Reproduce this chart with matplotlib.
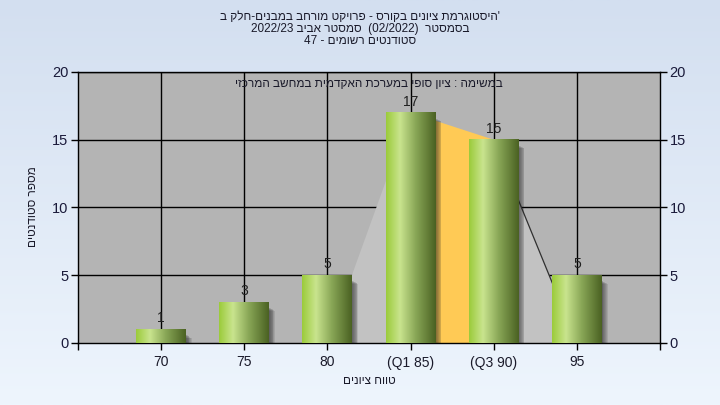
import re
import numpy as np
import matplotlib
matplotlib.use("Agg")
import matplotlib.pyplot as plt
from matplotlib.colors import LinearSegmentedColormap
from matplotlib.patches import Rectangle, Polygon

plt.rcParams['font.family'] = ['Liberation Sans', 'DejaVu Sans']

# ---------------- data ----------------
categories = ['70', '75', '80', '(Q1 85)', '(Q3 90)', '95']
counts = [1, 3, 5, 17, 15, 5]
quartile_area = [0, 0, 0, 17, 15, 0]   # background area (Q1..Q3 highlighted)
y_ticks = [0, 5, 10, 15, 20]

title_lines = [
    "'היסטוגרמת ציונים בקורס - פרויקט מורחב במבנים-חלק ב",
    "בסמסטר  (02/2022)  סמסטר אביב 2022/23",
    "סטודנטים רשומים - 47",
]
subtitle = "במשימה : ציון סופי במערכת האקדמית במחשב המרכזי"
x_label = "טווח ציונים"
y_label = "מספר סטודנטים"


def rtl(s):
    """Visual (left-to-right) order of a right-to-left string."""
    r = s[::-1]
    r = re.sub(r'[0-9A-Za-z/]+', lambda m: m.group(0)[::-1], r)
    r = r.translate(str.maketrans('()', ')('))
    return r


W, H = 720, 405
fig = plt.figure(figsize=(W / 100, H / 100), dpi=100)

# background gradient
bg = fig.add_axes([0, 0, 1, 1], zorder=-5)
grad = np.linspace(0, 1, 256).reshape(-1, 1)
bg_cmap = LinearSegmentedColormap.from_list('bg', ['#d3dff0', '#eef5fd'])
bg.imshow(grad, aspect='auto', cmap=bg_cmap, extent=[0, 1, 0, 1], origin='upper')
bg.set_axis_off()

left, right, top, bottom = 78, 660, 72, 343
ax = fig.add_axes([left / W, 1 - bottom / H, (right - left) / W, (bottom - top) / H])
ax.set_facecolor('#b4b4b4')

x = np.arange(len(categories))
xmin, xmax = -1, len(categories)

# grid
for yv in y_ticks[1:]:
    ax.axhline(yv, color='black', lw=1.0, zorder=1)
for xv in x:
    ax.axvline(xv, color='black', lw=1.0, zorder=1)

# background area (light gray outside quartiles, orange between)
qa = quartile_area
i1 = qa.index(17)
i2 = i1 + 1
light = '#c2c2c2'
ax.add_patch(Polygon([(i1 - 1, qa[i1 - 1]), (i1, qa[i1]), (i1, 0)], closed=True,
                     facecolor=light, edgecolor='none', zorder=2))
ax.add_patch(Polygon([(i1, 0), (i1, qa[i1]), (i2, qa[i2]), (i2, 0)], closed=True,
                     facecolor='#ffca55', edgecolor='none', zorder=2))
ax.add_patch(Polygon([(i2, 0), (i2, qa[i2]), (i2 + 1, qa[i2 + 1])], closed=True,
                     facecolor=light, edgecolor='none', zorder=2))
ax.plot([i2, i2 + 1], [qa[i2], qa[i2 + 1]], color='#303030', lw=0.9, zorder=2.2)

# bars with gradient and shadow
bw = 0.6
bar_cmap = LinearSegmentedColormap.from_list(
    'bar', [(0, '#9bcb3a'), (0.28, '#c9e48e'), (0.6, '#88a656'), (1.0, '#4a6122')])
hgrad = np.linspace(0, 1, 256).reshape(1, -1)
for xi, v in zip(x, counts):
    for k in range(7):
        dx = 0.01 * (k + 1)
        ax.add_patch(Rectangle((xi - bw / 2 + dx, -0.3), bw, v - 0.1 - k * 0.04,
                               facecolor='#202020', alpha=0.11, edgecolor='none',
                               zorder=2.5))
    ax.imshow(hgrad, aspect='auto', cmap=bar_cmap,
              extent=[xi - bw / 2, xi + bw / 2, 0, v], zorder=3)
    ax.text(xi, v + 0.3, str(v), ha='center', va='bottom', fontsize=10,
            color='#202020', zorder=4)

ax.set_xlim(xmin, xmax)
ax.set_ylim(0, 20)
ax.set_yticks(y_ticks)
ax.set_xticks(np.arange(xmin, xmax + 1))
ax.set_xticklabels([''] + categories + [''], fontsize=10, color='#1a1a2a')
ax.tick_params(axis='y', labelsize=10.5, labelcolor='#1a1a3a', length=5, width=1,
               direction='out', pad=2)
ax.tick_params(axis='x', length=5, width=1, direction='out', pad=4)
for s in ax.spines.values():
    s.set_color('black')
    s.set_linewidth(1.0)

ax2 = ax.twinx()
ax2.set_ylim(0, 20)
ax2.set_yticks(y_ticks)
ax2.tick_params(axis='y', labelsize=10.5, labelcolor='#1a1a3a', length=5, width=1,
                direction='out', pad=2)
for s in ax2.spines.values():
    s.set_visible(False)

ax.text(0.5, 0.955, rtl(subtitle), transform=ax.transAxes, ha='center', va='center',
        fontsize=8.5, color='#1a1a2a', zorder=5)

ax.set_xlabel(rtl(x_label), fontsize=8.5, color='#1a1a2a', labelpad=4)
fig.text(33 / W, 1 - 207 / H, rtl(y_label), rotation=90, ha='center', va='center',
         fontsize=8.5, color='#1a1a2a')

for i, line in enumerate(title_lines):
    fig.text(0.5, 1 - (17 + 12 * i) / H, rtl(line), ha='center', va='center',
             fontsize=8.5, color='#1a1a2a')

fig.savefig('out.png', dpi=100)
